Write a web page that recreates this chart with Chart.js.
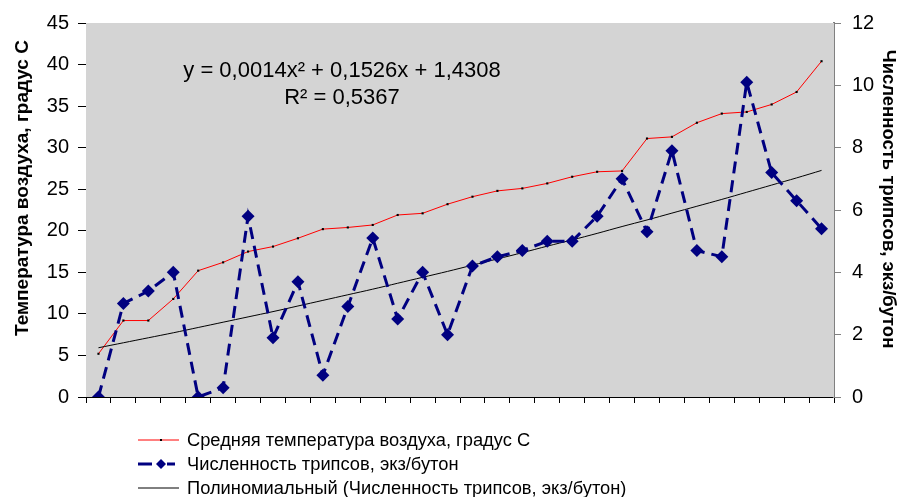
<!DOCTYPE html>
<html>
<head>
<meta charset="utf-8">
<script src="https://cdn.jsdelivr.net/npm/chart.js@4/dist/chart.umd.min.js"></script>
<style>
  html, body { margin: 0; padding: 0; background: #ffffff; }
  #wrap { position: relative; width: 898px; height: 497px; }
</style>
</head>
<body>
<div id="wrap"><canvas id="thripsChart"></canvas></div>
<script>
// --- data ---
const categories = ["1", "2", "3", "4", "5", "6", "7", "8", "9", "10",
  "11", "12", "13", "14", "15", "16", "17", "18", "19", "20",
  "21", "22", "23", "24", "25", "26", "27", "28", "29", "30"];

// left axis, degrees C
const airTemp = [5.2, 9.2, 9.2, 11.8, 15.2, 16.2, 17.5, 18.1, 19.1, 20.2,
  20.4, 20.7, 21.9, 22.1, 23.2, 24.1, 24.8, 25.1, 25.7, 26.5,
  27.1, 27.2, 31.1, 31.3, 33.0, 34.1, 34.3, 35.2, 36.7, 40.4];

// right axis, thrips per bud
const thrips = [0, 3.0, 3.4, 4.0, 0, 0.3, 5.8, 1.9, 3.7, 0.7,
  2.9, 5.1, 2.5, 4.0, 2.0, 4.2, 4.5, 4.7, 5.0, 5.0,
  5.8, 7.0, 5.3, 7.9, 4.7, 4.5, 10.1, 7.2, 6.3, 5.4];

// polynomial trendline as drawn (right axis)
const thripsTrend = [1.58, 1.74, 1.90, 2.06, 2.23, 2.40, 2.57, 2.74, 2.92, 3.10,
  3.28, 3.46, 3.65, 3.84, 4.03, 4.23, 4.43, 4.63, 4.84, 5.04,
  5.25, 5.47, 5.68, 5.90, 6.12, 6.34, 6.57, 6.80, 7.03, 7.27];

const leftTicks = [0, 5, 10, 15, 20, 25, 30, 35, 40, 45];
const rightTicks = [0, 2, 4, 6, 8, 10, 12];

const seriesNames = [
  "Средняя температура воздуха, градус С",
  "Численность трипсов, экз/бутон",
  "Полиномиальный (Численность трипсов, экз/бутон)",
];
const leftTitle = "Температура воздуха, градус С";
const rightTitle = "Численность трипсов, экз/бутон";
const equationText = "y = 0,0014x² + 0,1526x + 1,4308";
const rSquaredText = "R² = 0,5367";

const FONT = "'Liberation Sans', Arial, sans-serif";
const NAVY = "#000080";

// plot background + axis titles + trend equation
const decorPlugin = {
  id: "decor",
  beforeDatasetsDraw(chart) {
    const { ctx, chartArea: a } = chart;
    ctx.save();
    ctx.fillStyle = "#d4d4d4";
    ctx.fillRect(a.left, a.top, a.right - a.left, a.bottom - a.top);
    ctx.restore();
  },
  afterDraw(chart) {
    const ctx = chart.ctx;
    ctx.save();
    ctx.fillStyle = "#000";
    ctx.textBaseline = "middle";
    ctx.textAlign = "center";

    ctx.font = "22px " + FONT;
    ctx.fillText(equationText, 342, 71);
    ctx.fillText(rSquaredText, 342, 98);

    ctx.font = "bold 19px " + FONT;
    ctx.translate(23, 188);
    ctx.rotate(-Math.PI / 2);
    ctx.fillText(leftTitle, 0, 0);
    ctx.restore();

    ctx.save();
    ctx.fillStyle = "#000";
    ctx.textBaseline = "middle";
    ctx.textAlign = "center";
    ctx.font = "bold 18.5px " + FONT;
    ctx.translate(888, 199);
    ctx.rotate(Math.PI / 2);
    ctx.fillText(rightTitle, 0, 0);
    ctx.restore();
  },
};

// legend under the plot, one series per row
const legendPlugin = {
  id: "rowLegend",
  afterDraw(chart) {
    const ctx = chart.ctx;
    const ds = chart.data.datasets;
    const x0 = 138, x1 = 179, mid = 161, tx = 187;
    const rows = [440, 464, 488];
    ctx.save();

    // temperature
    ctx.strokeStyle = ds[0].borderColor;
    ctx.lineWidth = 1;
    ctx.beginPath(); ctx.moveTo(x0, rows[0]); ctx.lineTo(x1, rows[0]); ctx.stroke();
    ctx.fillStyle = "#000";
    ctx.fillRect(mid - 1, rows[0] - 1, 2, 2);

    // thrips
    ctx.strokeStyle = ds[1].borderColor;
    ctx.lineWidth = 3;
    ctx.beginPath();
    ctx.moveTo(x0, rows[1]); ctx.lineTo(152, rows[1]);
    ctx.moveTo(167, rows[1]); ctx.lineTo(175, rows[1]);
    ctx.stroke();
    ctx.fillStyle = ds[1].pointBackgroundColor;
    ctx.beginPath();
    ctx.moveTo(mid, rows[1] - 5); ctx.lineTo(mid + 5, rows[1]);
    ctx.lineTo(mid, rows[1] + 5); ctx.lineTo(mid - 5, rows[1]);
    ctx.closePath(); ctx.fill();

    // trend
    ctx.strokeStyle = ds[2].borderColor;
    ctx.lineWidth = 1;
    ctx.beginPath(); ctx.moveTo(x0, rows[2]); ctx.lineTo(x1, rows[2]); ctx.stroke();

    ctx.fillStyle = "#000";
    ctx.font = "18.3px " + FONT;
    ctx.textBaseline = "middle";
    ctx.textAlign = "left";
    seriesNames.forEach((name, i) => ctx.fillText(name, tx, rows[i] + 1));
    ctx.restore();
  },
};

const ctx = document.getElementById("thripsChart").getContext("2d");

new Chart(ctx, {
  type: "line",
  data: {
    labels: categories,
    datasets: [
      {
        label: seriesNames[0],
        data: airTemp,
        yAxisID: "y",
        borderColor: "#ff0000",
        borderWidth: 1,
        pointStyle: "rect",
        pointRadius: 1.5,
        pointBackgroundColor: "#000",
        pointBorderColor: "#000",
        pointBorderWidth: 0,
        tension: 0,
        order: 3,
      },
      {
        label: seriesNames[1],
        data: thrips,
        yAxisID: "y1",
        borderColor: NAVY,
        borderWidth: 3,
        borderDash: [12, 7],
        pointStyle: "rectRot",
        pointRadius: 6.5,
        pointBackgroundColor: NAVY,
        pointBorderColor: NAVY,
        pointBorderWidth: 0,
        tension: 0,
        order: 1,
      },
      {
        label: seriesNames[2],
        data: thripsTrend,
        yAxisID: "y1",
        borderColor: "#000",
        borderWidth: 1,
        pointRadius: 0,
        tension: 0.3,
        order: 2,
      },
    ],
  },
  options: {
    responsive: true,
    maintainAspectRatio: false,
    animation: false,
    layout: { padding: { top: 22, bottom: 94, left: 0, right: 0 } },
    plugins: {
      legend: { display: false },
      tooltip: { enabled: false },
    },
    scales: {
      x: {
        type: "category",
        offset: true,
        grid: { offset: true, drawOnChartArea: false, drawTicks: true, tickLength: 6, color: "#000" },
        border: { color: "#000", width: 1 },
        ticks: { display: false },
      },
      y: {
        position: "left",
        min: 0,
        max: 45,
        afterBuildTicks: (scale) => { scale.ticks = leftTicks.map((v) => ({ value: v })); },
        afterFit: (scale) => { scale.width = 86; },
        ticks: { color: "#000", padding: 9, font: { family: FONT, size: 20 } },
        grid: { drawOnChartArea: false, tickLength: 8, color: "#000" },
        border: { color: "#000", width: 1 },
      },
      y1: {
        position: "right",
        min: 0,
        max: 12,
        afterBuildTicks: (scale) => { scale.ticks = rightTicks.map((v) => ({ value: v })); },
        afterFit: (scale) => { scale.width = 64; },
        ticks: { color: "#000", padding: 11, font: { family: FONT, size: 20 } },
        grid: { drawOnChartArea: false, tickLength: 7, color: "#808080" },
        border: { color: "#808080", width: 2 },
      },
    },
  },
  plugins: [decorPlugin, legendPlugin],
});
</script>
</body>
</html>
